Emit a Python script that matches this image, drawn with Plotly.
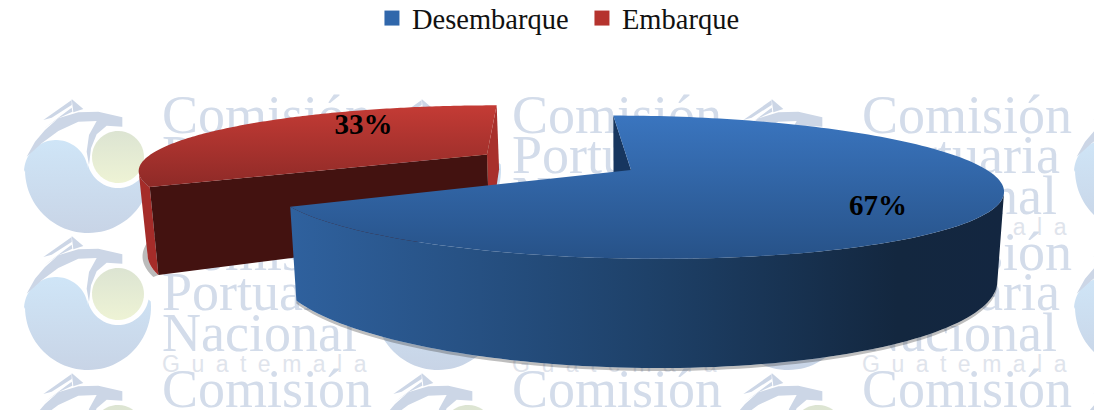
import numpy as np
import plotly.graph_objects as go

categories = ["Desembarque", "Embarque"]
values = [67, 33]
labels = ["67%", "33%"]
watermark_lines = ["Comisión", "Portuaria", "Nacional", "G\u2002u\u2002a\u2002t\u2002e\u2002m\u2002a\u2002l\u2002a"]

# 3D pie projection (styling constants)
CX, CY, R, K, P, H = 631, 170, 356, 67.5, 0.24, 22
DEPTH, SHRINK = 83, 0.982
EXPLODE = {1: 0.48}
LABEL_POS = {0: (130, 0.76), 1: (320, 0.665)}  # degrees, radius fraction

def proj(theta, r=1.0, e=(0, 0), bottom=False):
    u = e[0] + r * np.sin(theta)
    v = e[1] - r * np.cos(theta)
    s = 1 / (1 - P * v)
    x = R * u * s + H * v * s
    y = K * v * s
    if bottom:
        x = x * SHRINK
        y = y + DEPTH * s
    return CX + x, CY + y

fig = go.Figure()

def poly(x, y, color=None, grad=None):
    kw = {}
    if grad is not None:
        kw["fillgradient"] = grad
    else:
        kw["fillcolor"] = color
    fig.add_trace(go.Scatter(x=list(x), y=list(y), mode="none", fill="toself",
                             hoverinfo="skip", showlegend=False, **kw))

def vgrad(a, b, y0, y1):
    return dict(type="vertical", colorscale=[[0, a], [1, b]], start=y0, stop=y1)

def hgrad(stops, x0, x1):
    return dict(type="horizontal", colorscale=stops, start=x0, stop=x1)

# ---- watermark tiles
def arc(cx, cy, r, a0, a1, n=50):
    t = np.radians(np.linspace(a0, a1, n))
    return cx + r * np.cos(t), cy + r * np.sin(t)

SWOOSH = [(35,185),(60,140),(90,105),(130,70),(190,52),(250,50),(322,67),(322,95),(275,92),(245,118),
          (228,160),(222,210),(215,170),(222,120),(245,78),(190,80),(130,108),(80,145)]
SAIL = [(170,12),(205,42),(175,52)]
STRIPE1 = [(85,75),(170,15),(170,30),(110,68)]
STRIPE2 = [(88,100),(170,38),(172,50),(130,70)]

def shape(points, ox, oy, color):
    p = np.array(points, dtype=float)
    poly(15 + p[:, 0] / 3 + ox, 95 + p[:, 1] / 3 + oy, color=color)

def logo(ox, oy):
    x1, y1 = arc(56, 172, 32, 180, 360)
    x2, y2 = arc(118, 157, 31, 170, 10)
    x3, y3 = arc(88, 170, 63, -5, 180)
    bx = np.concatenate([x1, x2, x3]) + ox
    by = np.concatenate([y1, y2, y3]) + oy
    poly(bx, by, grad=vgrad("#CFE5F7", "#C8D4E6", 141 + oy, 233 + oy))
    gx, gy = arc(118, 157, 26, 0, 360)
    poly(gx + ox, gy + oy, grad=vgrad("#DCE4D2", "#EEF3D5", 131 + oy, 183 + oy))
    for pts in (SWOOSH, SAIL, STRIPE1, STRIPE2):
        shape(pts, ox, oy, "#CCD6E6")

COLS = [0, 350, 700, 1050]
ROWS = [0, 137, 274]
for oy in ROWS:
    for ox in COLS:
        logo(ox, oy)

tile_y = [119, 159, 200, 229]
for line, y0, size, fam, col in zip(
    watermark_lines, tile_y, [54, 54, 54, 23],
    ["Liberation Serif"] * 3 + ["Liberation Sans"],
    ["#D3DCEA", "#D3DCEA", "#D3DCEA", "#DFE4EC"]):
    xs, ys = [], []
    for oy in ROWS:
        for ox in COLS[:3]:
            xs.append(162 + ox)
            ys.append(y0 + oy)
    fig.add_trace(go.Scatter(x=xs, y=ys, mode="text", text=[line] * len(xs),
                             textposition="middle right",
                             textfont=dict(family=fam, size=size, color=col),
                             hoverinfo="skip", showlegend=False))

# ---- pie
fracs = np.array(values, dtype=float) / sum(values)
starts = np.concatenate([[0], np.cumsum(fracs)[:-1]]) * 2 * np.pi
ends = np.cumsum(fracs) * 2 * np.pi

def slice_geom(i):
    mid = (starts[i] + ends[i]) / 2
    m = EXPLODE.get(i, 0)
    e = (m * np.sin(mid), -m * np.cos(mid))
    th = np.linspace(starts[i], ends[i], 160)
    return th, e

# Embarque (red, behind)
th, e = slice_geom(1)
a0, a1 = starts[1], ends[1]
tx, ty = proj(th, e=e)
bx, by = proj(th, e=e, bottom=True)
apx, apy = proj(0.0, r=0.0, e=e)
apbx, apby = proj(0.0, r=0.0, e=e, bottom=True)
# shadow
poly(np.concatenate([bx[:70], bx[:70][::-1] - 5]), np.concatenate([by[:70], by[:70][::-1] + 2]), color="rgba(60,60,60,0.35)")
# radial face at the end angle (lighter, right)
rx, ry = proj(a1, e=e)
rbx, rby = proj(a1, e=e, bottom=True)
poly([apx, rx, rbx, apbx], [apy, ry, rby, apby], color="#A8302C")
# outer wall
k = int(np.argmin(tx))
poly(np.concatenate([tx[:k + 1], bx[:k + 1][::-1]]), np.concatenate([ty[:k + 1], by[:k + 1][::-1]]), color="#A52C29")
# radial face at the start angle (dark)
lx, ly = proj(a0, e=e)
lbx, lby = proj(a0, e=e, bottom=True)
poly([apx, lx, lbx, apbx], [apy, ly, lby, apby], color="#431210")
# top
poly(np.append(tx, apx), np.append(ty, apy), grad=vgrad("#C43B35", "#8E2A27", ty.min(), ty.max()))

# Desembarque (blue, front)
th, e = slice_geom(0)
tx, ty = proj(th, e=e)
bx, by = proj(th, e=e, bottom=True)
apx, apy = proj(0.0, r=0.0, e=e)
apbx, apby = proj(0.0, r=0.0, e=e, bottom=True)
k = int(np.argmax(tx))
# soft shadow beneath
poly(np.concatenate([bx[k:], bx[k:][::-1]]) , np.concatenate([by[k:], by[k:][::-1] + 3]), color="rgba(70,70,70,0.35)")
# radial face at 12 o'clock
r0x, r0y = proj(starts[0], e=e)
r0bx, r0by = proj(starts[0], e=e, bottom=True)
poly([apx, r0x, r0bx, apbx], [apy, r0y, r0by, apby], color="#17365F")
# wall
poly(np.concatenate([tx[k:], bx[k:][::-1]]), np.concatenate([ty[k:], by[k:][::-1]]),
     grad=hgrad([[0, "#2F619E"], [0.5, "#1E4169"], [0.85, "#13273F"], [1, "#132640"]], tx.min(), tx.max()))
# top
poly(np.append(tx, apx), np.append(ty, apy), grad=vgrad("#3A75BF", "#275288", ty.min(), ty.max()))

# ---- value labels
lab_x, lab_y = [], []
for i in [0, 1]:
    _, e = slice_geom(i)
    ang, rr = LABEL_POS[i]
    x, y = proj(np.radians(ang), r=rr, e=e)
    lab_x.append(float(x))
    lab_y.append(float(y))
fig.add_trace(go.Scatter(x=lab_x, y=lab_y, mode="text", text=labels, textposition="middle center",
                         textfont=dict(family="Liberation Serif", size=29, color="#000", weight="bold"),
                         hoverinfo="skip", showlegend=False))

# ---- legend
for name, c in zip(categories, ["#3067AB", "#B5332E"]):
    fig.add_trace(go.Scatter(x=[None], y=[None], mode="markers", name=name,
                             marker=dict(symbol="square", size=15, color=c)))

fig.update_layout(
    width=1094, height=410, margin=dict(l=0, r=0, t=0, b=0, pad=0, autoexpand=False),
    paper_bgcolor="white", plot_bgcolor="white",
    xaxis=dict(range=[0, 1094], visible=False, fixedrange=True, domain=[0, 1]),
    yaxis=dict(range=[410, 0], visible=False, fixedrange=True, domain=[0, 1]),
    legend=dict(orientation="h", x=0.34, xanchor="left", y=1.017, yanchor="top",
                font=dict(family="Liberation Serif", size=28.5, color="#111"),
                itemwidth=30, entrywidth=165, entrywidthmode="pixels",
                bgcolor="rgba(0,0,0,0)", traceorder="normal"),
)
fig.write_html("out.html", config={"displayModeBar": False},
               post_script="document.body.style.margin='0';")
